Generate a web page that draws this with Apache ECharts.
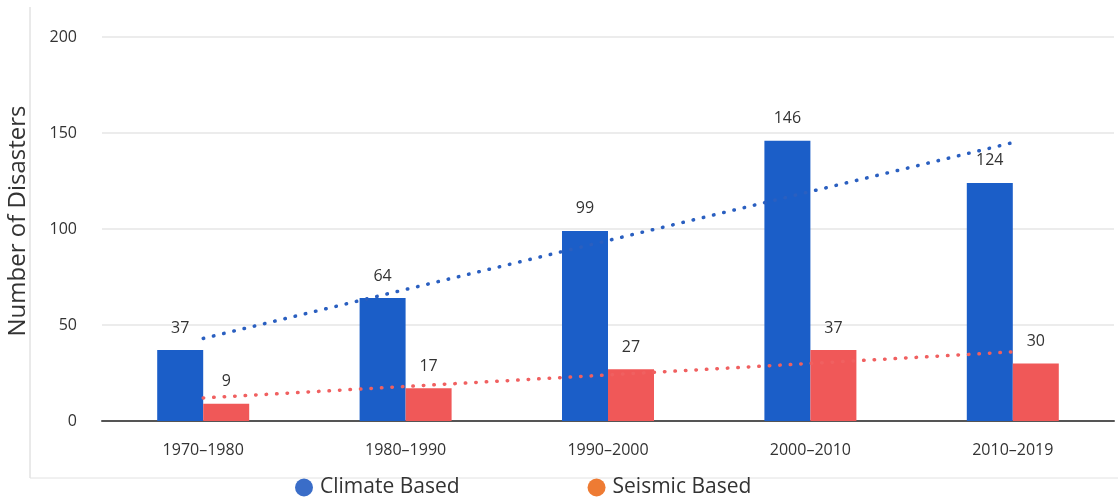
<!DOCTYPE html>
<html>
<head>
<meta charset="utf-8">
<script src="https://cdn.jsdelivr.net/npm/echarts@6/dist/echarts.min.js"></script>
<style>
  html, body { margin: 0; padding: 0; background: #fff; }
  #chart { width: 1118px; height: 504px; }
</style>
</head>
<body>
<div id="chart"></div>
<script>
  // values
  var decades = ['1970–1980', '1980–1990', '1990–2000', '2000–2010', '2010–2019'];
  var climate = [37, 64, 99, 146, 124];
  var seismic = [9, 17, 27, 37, 30];
  // trend lines: start and end values only
  var climateTrend = [43, '-', '-', '-', 145];
  var seismicTrend = [12, '-', '-', '-', 36];
  var yTicks = [0, 50, 100, 150, 200];

  var chart = echarts.init(document.getElementById('chart'));

  var dots = function (color) {
    return { color: color, width: 3.5, type: [0.5, 10], cap: 'round' };
  };

  chart.setOption({
    animation: false,
    textStyle: { fontFamily: 'Open Sans' },
    grid: { left: 102, right: 4, top: 37, bottom: 83, outerBoundsMode: 'none', containLabel: false },
    graphic: [
      { type: 'line', shape: { x1: 30, y1: 7, x2: 30, y2: 478 }, style: { stroke: '#d4d4d4', lineWidth: 1 } },
      { type: 'line', shape: { x1: 30, y1: 478, x2: 1118, y2: 478 }, style: { stroke: '#e2e2e2', lineWidth: 1 } }
    ],
    legend: {
      bottom: 1,
      left: 290,
      icon: 'circle',
      itemWidth: 18,
      itemHeight: 18,
      itemGap: 128,
      textStyle: { fontSize: 21, color: '#333', fontFamily: 'Open Sans', padding: [0, 0, 0, 2] },
      data: [
        { name: 'Climate Based', itemStyle: { color: '#3a6dc8' } },
        { name: 'Seismic Based', itemStyle: { color: '#ee7b33' } }
      ]
    },
    xAxis: {
      type: 'category',
      data: decades,
      axisTick: { show: false },
      axisLine: { lineStyle: { color: '#555', width: 2 } },
      axisLabel: { color: '#333', fontSize: 16, margin: 21 }
    },
    yAxis: {
      type: 'value',
      min: yTicks[0],
      max: yTicks[yTicks.length - 1],
      interval: 50,
      name: 'Number of Disasters',
      nameLocation: 'middle',
      nameGap: 72,
      nameTextStyle: { fontSize: 24, color: '#333', padding: [0, 0, 0, 16] },
      axisLine: { show: false },
      axisTick: { show: false },
      axisLabel: { color: '#333', fontSize: 16, margin: 25 },
      splitLine: { lineStyle: { color: '#e6e6e6', width: 1.5 } }
    },
    series: [
      {
        name: 'Climate Based',
        type: 'bar',
        data: climate,
        barWidth: 46,
        barGap: '0%',
        itemStyle: { color: '#1b5ec8' },
        label: { show: true, position: 'top', distance: 14, color: '#333', fontSize: 16 }
      },
      {
        name: 'Seismic Based',
        type: 'bar',
        data: seismic,
        barWidth: 46,
        itemStyle: { color: '#f05858' },
        label: { show: true, position: 'top', distance: 14, color: '#333', fontSize: 16 }
      },
      {
        name: 'climate trend',
        type: 'line',
        data: climateTrend,
        connectNulls: true,
        symbol: 'none',
        silent: true,
        z: 5,
        lineStyle: dots('#2a5fc0')
      },
      {
        name: 'seismic trend',
        type: 'line',
        data: seismicTrend,
        connectNulls: true,
        symbol: 'none',
        silent: true,
        z: 5,
        lineStyle: dots('#f06060')
      }
    ]
  });
</script>
</body>
</html>
